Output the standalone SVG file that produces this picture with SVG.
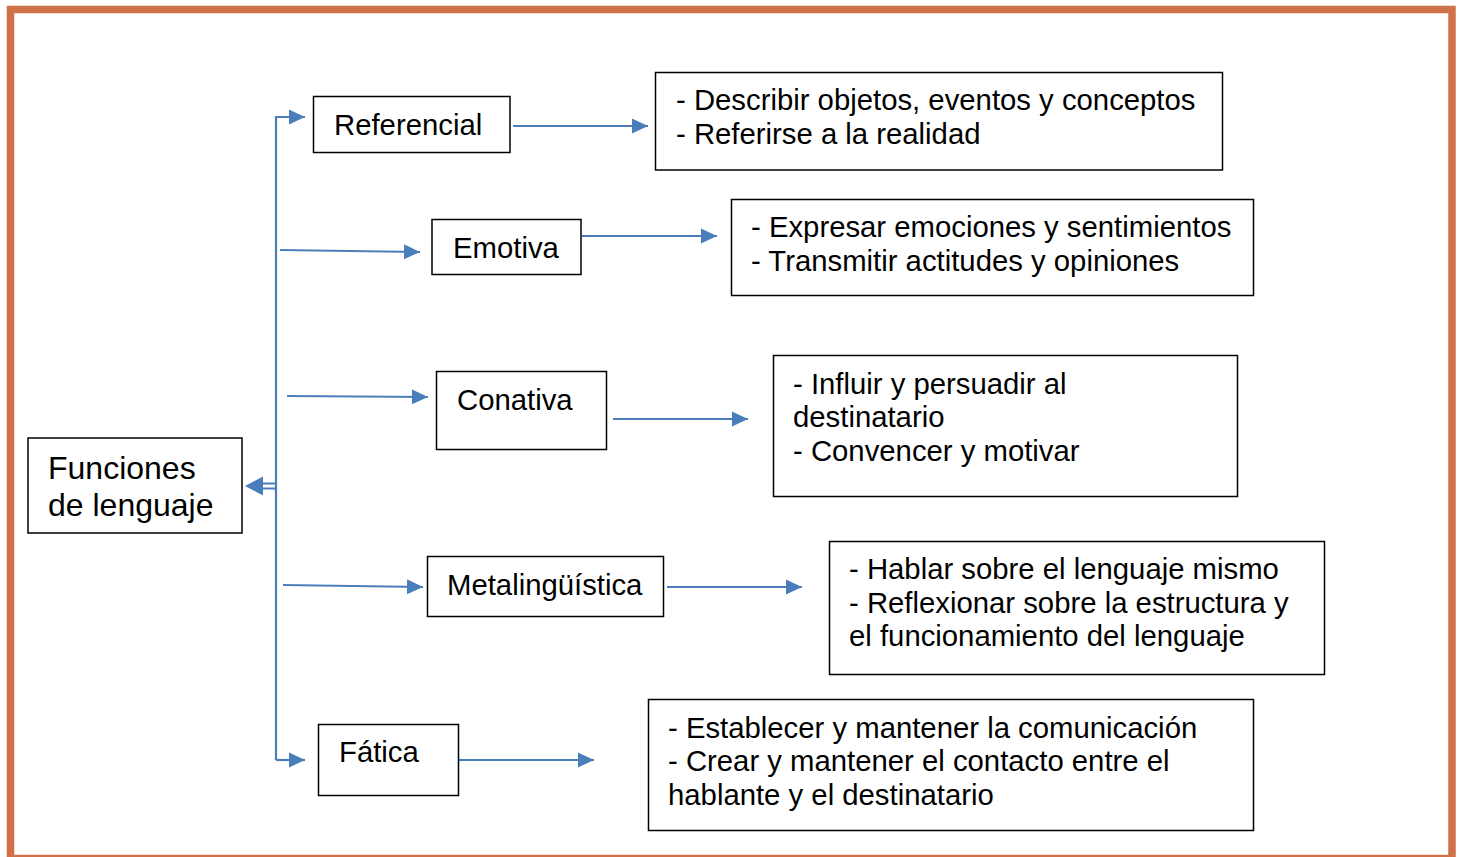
<svg xmlns="http://www.w3.org/2000/svg" width="1460" height="857" viewBox="0 0 1460 857">
<defs>
<style>
.frame{fill:none;stroke:#d0714a;stroke-width:7.5}
.box{fill:#fff;stroke:#000;stroke-width:1.5}
.t{font-family:"Liberation Sans",Arial,sans-serif;font-size:29.3px;fill:#000}
.big{font-size:32px}
.c{fill:none;stroke:#4a7ebb;stroke-width:2.2}
</style>
<marker id="a" markerWidth="18" markerHeight="18" refX="16" refY="8.5" orient="auto" markerUnits="userSpaceOnUse">
<path d="M0,1 L16,8.5 L0,16 Z" fill="#4a7ebb"/>
</marker>
</defs>
<rect x="0" y="0" width="1460" height="857" fill="#fff"/>
<rect class="frame" x="10.5" y="9.5" width="1441.5" height="849"/>

<g id="connectors">
<path class="c" d="M276,760 V117 H305" marker-end="url(#a)"/>
<path class="c" d="M276,760 H305" marker-end="url(#a)"/>
<path class="c" d="M280,250 L420,252" marker-end="url(#a)"/>
<path class="c" d="M287,396 L428,397" marker-end="url(#a)"/>
<path class="c" d="M283,585 L423,587" marker-end="url(#a)"/>
<path class="c" d="M276,483.5 H262 M276,488.5 H262"/>
<path d="M245,486 L263,476.5 L263,495.5 Z" fill="#4a7ebb"/>
<path class="c" d="M513,126 L648,126" marker-end="url(#a)"/>
<path class="c" d="M582,236 L717,236" marker-end="url(#a)"/>
<path class="c" d="M613,419 L748,419" marker-end="url(#a)"/>
<path class="c" d="M667,587 L802,587" marker-end="url(#a)"/>
<path class="c" d="M459,760 L594,760" marker-end="url(#a)"/>
</g>

<g id="funciones">
<rect class="box" x="28" y="438" width="214" height="95"/>
<text class="t big" x="48" y="479">Funciones</text>
<text class="t big" x="48" y="516">de lenguaje</text>
</g>

<g id="referencial">
<rect class="box" x="313.5" y="96.5" width="196.5" height="56"/>
<text class="t" x="334" y="135">Referencial</text>
</g>
<g id="referencial-desc">
<rect class="box" x="655.5" y="72.5" width="567" height="97.5"/>
<text class="t" x="676" y="110">- Describir objetos, eventos y conceptos</text>
<text class="t" x="676" y="144">- Referirse a la realidad</text>
</g>

<g id="emotiva">
<rect class="box" x="432" y="219.5" width="149" height="55"/>
<text class="t" x="453" y="258">Emotiva</text>
</g>
<g id="emotiva-desc">
<rect class="box" x="731.5" y="199.5" width="522" height="96"/>
<text class="t" x="751" y="237">- Expresar emociones y sentimientos</text>
<text class="t" x="751" y="271">- Transmitir actitudes y opiniones</text>
</g>

<g id="conativa">
<rect class="box" x="436.5" y="371.5" width="170" height="78"/>
<text class="t" x="457" y="410">Conativa</text>
</g>
<g id="conativa-desc">
<rect class="box" x="773.5" y="355.5" width="464" height="141"/>
<text class="t" x="793" y="394">- Influir y persuadir al</text>
<text class="t" x="793" y="427">destinatario</text>
<text class="t" x="793" y="461">- Convencer y motivar</text>
</g>

<g id="metalinguistica">
<rect class="box" x="427.5" y="556.5" width="236" height="60"/>
<text class="t" x="447" y="595">Metalingüística</text>
</g>
<g id="metalinguistica-desc">
<rect class="box" x="829.5" y="541.5" width="495" height="133"/>
<text class="t" x="849" y="579">- Hablar sobre el lenguaje mismo</text>
<text class="t" x="849" y="613">- Reflexionar sobre la estructura y</text>
<text class="t" x="849" y="646">el funcionamiento del lenguaje</text>
</g>

<g id="fatica">
<rect class="box" x="318.5" y="724.5" width="140" height="71"/>
<text class="t" x="339" y="762">Fática</text>
</g>
<g id="fatica-desc">
<rect class="box" x="648.5" y="699.5" width="605" height="131"/>
<text class="t" x="668" y="738">- Establecer y mantener la comunicación</text>
<text class="t" x="668" y="771">- Crear y mantener el contacto entre el</text>
<text class="t" x="668" y="805">hablante y el destinatario</text>
</g>
</svg>
